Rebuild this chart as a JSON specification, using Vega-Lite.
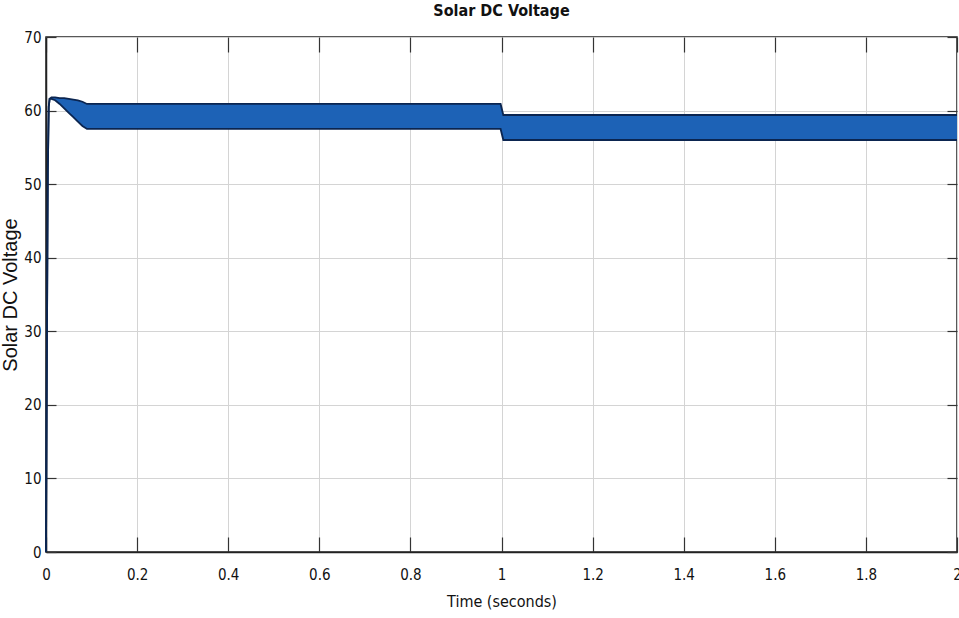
{
  "$schema": "https://vega.github.io/schema/vega-lite/v6.json",
  "width": 911,
  "height": 515,
  "autosize": {"type": "none"},
  "padding": {"left": 46, "top": 37, "right": 2, "bottom": 66},
  "background": "white",
  "title": {
    "text": "Solar DC Voltage",
    "font": "'DejaVu Sans Condensed', 'Liberation Sans', sans-serif",
    "fontSize": 16,
    "fontWeight": "bold",
    "color": "#111111",
    "offset": 11,
    "anchor": "middle"
  },
  "config": {
    "view": {"stroke": "#222222", "strokeWidth": 1.5},
    "axis": {
      "labelFont": "'DejaVu Sans Condensed', 'Liberation Sans', sans-serif",
      "labelFontSize": 15,
      "labelColor": "#111111",
      "titleFont": "'DejaVu Sans Condensed', 'Liberation Sans', sans-serif",
      "titleFontSize": 16,
      "titleFontWeight": "normal",
      "titleColor": "#111111",
      "gridColor": "#d4d4d4",
      "gridWidth": 1,
      "gridOpacity": 1,
      "domainColor": "#222222",
      "domainWidth": 1.5,
      "tickColor": "#333333",
      "tickWidth": 1.2
    }
  },
  "data": {
    "values": [
      {"t": 0, "lo": 0, "hi": 0},
      {"t": 0.002, "lo": 28, "hi": 28},
      {"t": 0.004, "lo": 52, "hi": 52},
      {"t": 0.006, "lo": 60.5, "hi": 60.5},
      {"t": 0.008, "lo": 61.6, "hi": 61.6},
      {"t": 0.012, "lo": 61.6, "hi": 61.8},
      {"t": 0.02, "lo": 61.4, "hi": 61.8},
      {"t": 0.03, "lo": 60.9, "hi": 61.7},
      {"t": 0.04, "lo": 60.3, "hi": 61.7},
      {"t": 0.05, "lo": 59.7, "hi": 61.6},
      {"t": 0.06, "lo": 59.1, "hi": 61.5},
      {"t": 0.07, "lo": 58.5, "hi": 61.4},
      {"t": 0.08, "lo": 57.9, "hi": 61.2},
      {"t": 0.09, "lo": 57.5, "hi": 60.9},
      {"t": 0.095, "lo": 57.5, "hi": 60.9},
      {"t": 0.5, "lo": 57.5, "hi": 60.9},
      {"t": 0.998, "lo": 57.5, "hi": 60.9},
      {"t": 1.004, "lo": 56.0, "hi": 59.4},
      {"t": 1.5, "lo": 56.0, "hi": 59.4},
      {"t": 2.0, "lo": 56.0, "hi": 59.4}
    ]
  },
  "layer": [
    {
      "mark": {"type": "area", "color": "#1d62b6", "opacity": 1},
      "encoding": {
        "x": {
          "field": "t",
          "type": "quantitative",
          "scale": {"domain": [0, 2], "nice": false, "zero": false},
          "axis": {
            "orient": "bottom",
            "title": "Time (seconds)",
            "values": [0, 0.2, 0.4, 0.6, 0.8, 1, 1.2, 1.4, 1.6, 1.8, 2],
            "format": "~g",
            "tickSize": -15,
            "labelPadding": 30,
            "titlePadding": 11,
            "grid": true,
            "labelFlush": false
          }
        },
        "y": {
          "field": "hi",
          "type": "quantitative",
          "scale": {"domain": [0, 70], "nice": false},
          "axis": {
            "orient": "left",
            "title": "Solar DC Voltage",
            "titleFont": "Liberation Sans",
            "titleFontSize": 20,
            "values": [0, 10, 20, 30, 40, 50, 60, 70],
            "tickSize": -10,
            "labelPadding": 15,
            "titlePadding": 3,
            "grid": true,
            "labelFlush": false
          }
        },
        "y2": {"field": "lo"}
      }
    },
    {
      "mark": {"type": "line", "color": "#0b2550", "strokeWidth": 1.8},
      "encoding": {
        "x": {
          "field": "t",
          "type": "quantitative",
          "axis": {
            "orient": "top",
            "title": null,
            "labels": false,
            "grid": false,
            "domain": false,
            "tickSize": -15,
            "values": [0, 0.2, 0.4, 0.6, 0.8, 1, 1.2, 1.4, 1.6, 1.8, 2]
          }
        },
        "y": {
          "field": "hi",
          "type": "quantitative",
          "axis": {
            "orient": "right",
            "title": null,
            "labels": false,
            "grid": false,
            "domain": false,
            "tickSize": -10,
            "values": [0, 10, 20, 30, 40, 50, 60, 70]
          }
        }
      }
    },
    {
      "mark": {"type": "line", "color": "#0b2550", "strokeWidth": 1.8},
      "encoding": {
        "x": {"field": "t", "type": "quantitative", "axis": null},
        "y": {"field": "lo", "type": "quantitative", "axis": null}
      }
    }
  ],
  "resolve": {"axis": {"x": "independent", "y": "independent"}}
}
